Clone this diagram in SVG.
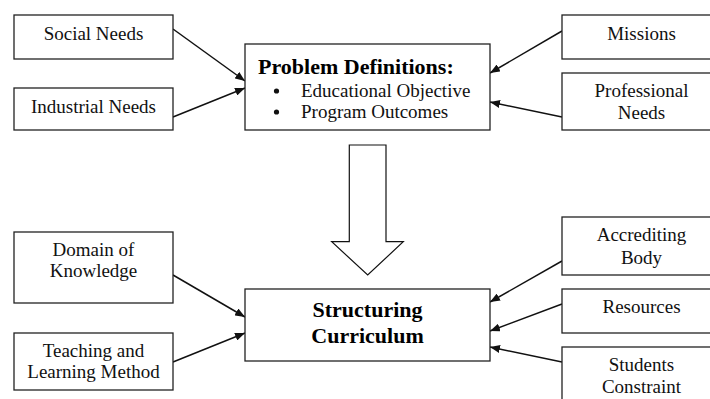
<svg xmlns="http://www.w3.org/2000/svg" width="710" height="399" viewBox="0 0 710 399">
<style>
.box{fill:#fff;stroke:#222;stroke-width:1.3}
.t{font-family:"Liberation Serif","Times New Roman",serif;font-size:19px;fill:#111;text-anchor:middle}
.b{font-family:"Liberation Serif","Times New Roman",serif;font-size:22px;font-weight:bold;fill:#000}
.c{stroke:#111;stroke-width:1.5;fill:none;marker-end:url(#ah)}
</style>
<defs>
<marker id="ah" viewBox="0 0 10 8" refX="10" refY="4" markerWidth="10" markerHeight="8" markerUnits="userSpaceOnUse" orient="auto">
<path d="M0,0 L10,4 L0,8 Z" fill="#111"/>
</marker>
</defs>
<rect width="710" height="399" fill="#fff"/>
<g id="connectors">
<line class="c" x1="173" y1="29" x2="245" y2="81"/>
<line class="c" x1="173" y1="117" x2="245" y2="88"/>
<line class="c" x1="562" y1="31" x2="490" y2="73"/>
<line class="c" x1="562" y1="117" x2="490" y2="102"/>
<line class="c" x1="173" y1="275" x2="245" y2="317"/>
<line class="c" x1="173" y1="362" x2="245" y2="333"/>
<line class="c" x1="562" y1="261" x2="490" y2="302"/>
<line class="c" x1="562" y1="304" x2="490" y2="331"/>
<line class="c" x1="562" y1="362" x2="490" y2="347"/>
<polygon points="349.3,145 386,145 386,241.7 403.3,241.7 367.7,275 331.7,241.7 349.3,241.7" fill="#fff" stroke="#111" stroke-width="1.2"/>
</g>
<g id="social-needs"><rect class="box" x="14" y="15" width="159" height="44"/><text class="t" x="93.5" y="40">Social Needs</text></g>
<g id="industrial-needs"><rect class="box" x="14" y="88" width="159" height="42"/><text class="t" x="93.5" y="113">Industrial Needs</text></g>
<g id="missions"><rect class="box" x="562" y="15" width="159" height="44"/><text class="t" x="641.5" y="40">Missions</text></g>
<g id="professional-needs"><rect class="box" x="562" y="73" width="159" height="57"/><text class="t" x="641.5" y="97">Professional</text><text class="t" x="641.5" y="119">Needs</text></g>
<g id="problem-definitions"><rect class="box" x="245" y="44" width="245" height="86"/>
<text class="b" x="258" y="74">Problem Definitions:</text>
<circle cx="276.5" cy="91" r="2.6" fill="#111"/>
<text class="t" x="301" y="97" style="text-anchor:start">Educational Objective</text>
<circle cx="276.5" cy="112" r="2.6" fill="#111"/>
<text class="t" x="301" y="118" style="text-anchor:start">Program Outcomes</text>
</g>
<g id="domain-of-knowledge"><rect class="box" x="14" y="232" width="159" height="71"/><text class="t" x="93.5" y="256">Domain of</text><text class="t" x="93.5" y="277">Knowledge</text></g>
<g id="teaching-learning"><rect class="box" x="14" y="333" width="159" height="57"/><text class="t" x="93.5" y="357">Teaching and</text><text class="t" x="93.5" y="378">Learning Method</text></g>
<g id="structuring-curriculum"><rect class="box" x="245" y="289" width="245" height="72"/><text class="b" x="367.5" y="317" style="text-anchor:middle">Structuring</text><text class="b" x="367.5" y="343" style="text-anchor:middle">Curriculum</text></g>
<g id="accrediting-body"><rect class="box" x="562" y="217" width="159" height="58"/><text class="t" x="641.5" y="241">Accrediting</text><text class="t" x="641.5" y="264">Body</text></g>
<g id="resources"><rect class="box" x="562" y="289" width="159" height="44"/><text class="t" x="641.5" y="313">Resources</text></g>
<g id="students-constraint"><rect class="box" x="562" y="347" width="159" height="60"/><text class="t" x="641.5" y="371">Students</text><text class="t" x="641.5" y="393">Constraint</text></g>
</svg>
